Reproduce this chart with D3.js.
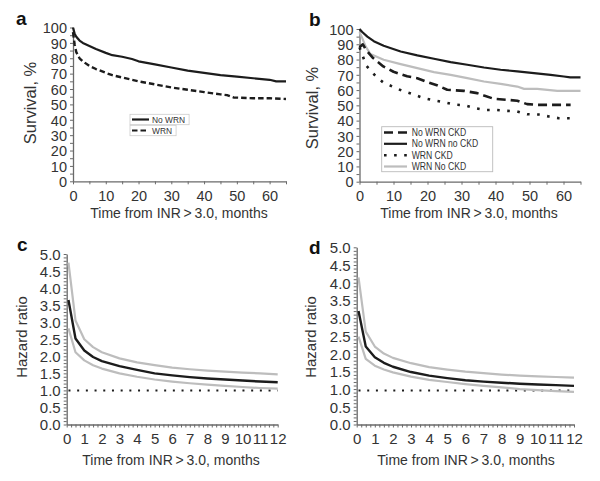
<!DOCTYPE html>
<html><head><meta charset="utf-8">
<script src="https://cdn.jsdelivr.net/npm/d3@7"></script>
<style>body{margin:0;background:#fff}svg{display:block;font-family:"Liberation Sans",Arial,Helvetica,sans-serif}</style>
</head><body><svg id="chart" width="600" height="481"></svg>
<script>
// ---------- DATA ----------
// Panel a: Kaplan-Meier survival (%), [month, survival]
const aNoWRN = [[0,100],[0.5,96],[1,94],[2,91.5],[3,90],[5,88],[7,86],[10,83.5],[12,82],[15,81],[18,79.5],[20,78],[25,76],[30,74],[35,72],[40,70.5],[45,69],[50,68],[55,67],[60,66],[62,65],[65,65]];
const aWRN = [[0,97],[0.5,89],[1,84],[2,80],[3,78],[5,75],[7,73],[10,70.5],[12,69],[15,67.5],[20,65],[25,63],[30,61],[35,59.5],[40,58],[45,56.5],[47,56],[49,54.5],[55,54],[60,54],[65,53.5]];
const aLegend = ["No WRN", "WRN"];
// Panel b
const bNoWRNCKD = [[0,88],[1,90],[2,86],[4,81],[7,75.5],[10,72],[14,69],[17,67.8],[20,65.2],[23,63],[25.8,60.2],[30.7,59.5],[34.6,58],[36.6,56.4],[39.5,54.3],[43.5,53.6],[46.4,53],[49.3,50.8],[52.3,50.3],[62.1,50.3]];
const bNoWRNnoCKD = [[0,100],[0.8,98],[2.3,95],[4.2,92],[7.1,89],[12.1,85.3],[17,82.7],[21.9,80.5],[26.8,78.3],[31.7,76.6],[36.6,74.8],[41.5,73.3],[46.4,72.2],[51.3,71.1],[56.2,70],[60.1,68.9],[62,68.3],[65,68.3]];
const bWRNCKD = [[0,88],[1,82],[2,76],[4,71],[5,68.5],[7,65],[10,62],[12.6,59.5],[15.5,57.5],[18.5,55],[21.4,53.5],[25,52],[28,50.5],[31,50],[34,48.2],[37,47],[40,47],[43.5,46.4],[46.4,46],[49.3,44.2],[52.7,44],[55.7,42.7],[58.6,41.6],[62,41.5]];
const bWRNNoCKD = [[0,98],[0.8,94],[1.8,88.6],[3.2,83.6],[7.1,79.9],[12.1,77],[17,74.4],[21.9,71.8],[26.8,70],[31.7,67.8],[36.6,65.6],[41.5,64.1],[46.4,62.3],[48.4,60.8],[52.3,60.8],[58.2,59.5],[65,59.5]];
const bLegend = ["No WRN CKD", "No WRN no CKD", "WRN CKD", "WRN No CKD"];
// Panels c and d: hazard ratio with confidence bounds
const hrMonths = [0.1,0.5,1,1.5,2,3,4,5,6,7,8,9,10,11,12];
const cHR    = [3.65,2.52,2.17,1.98,1.86,1.71,1.6,1.5,1.44,1.39,1.35,1.32,1.29,1.26,1.24];
const cUpper = [4.75,3.05,2.5,2.27,2.12,1.94,1.82,1.74,1.67,1.62,1.58,1.55,1.52,1.5,1.47];
const cLower = [2.82,2.12,1.88,1.74,1.64,1.5,1.4,1.32,1.26,1.21,1.17,1.13,1.1,1.07,1.05];
const dHR    = [3.2,2.2,1.9,1.74,1.63,1.48,1.38,1.31,1.25,1.21,1.18,1.15,1.13,1.11,1.09];
const dUpper = [4.15,2.62,2.2,2.0,1.88,1.73,1.62,1.55,1.49,1.45,1.41,1.38,1.36,1.34,1.32];
const dLower = [2.48,1.85,1.66,1.55,1.47,1.35,1.26,1.2,1.14,1.09,1.05,1.0,0.97,0.94,0.92];
const refLine = [[0.1,1.0],[12,1.0]];
const refLineD = [[0.1,0.96],[12,0.96]];
const panelLetters = ["a","b","c","d"];
const xTitle = "Time from INR\u2009>\u20093.0, months";

// ---------- DRAW ----------
const svg = d3.select("#chart");
const BLACK = "#1c1c1c", GREY = "#bdbdbd", AXIS = "#6a6a6a", TXT = "#333";

function panel(o) {
  const g = svg.append("g");
  const x = d3.scaleLinear().domain(o.xDom).range([o.x0, o.x1]);
  const y = d3.scaleLinear().domain(o.yDom).range([o.y0, o.y1]);
  const xa = d3.axisBottom(x).tickValues(o.xTicks).tickSize(3).tickSizeOuter(0).tickPadding(6)
    .tickFormat(o.xFmt);
  const ya = d3.axisLeft(y).tickValues(o.yTicks).tickSize(3).tickSizeOuter(0).tickPadding(3)
    .tickFormat(o.yFmt);
  const gx = g.append("g").attr("transform", `translate(0,${o.y0})`).call(xa);
  const gy = g.append("g").attr("transform", `translate(${o.x0},0)`).call(ya);
  [gx, gy].forEach(a => {
    a.select(".domain").attr("stroke", AXIS).attr("stroke-width", 1.3);
    a.selectAll(".tick line").attr("stroke", AXIS).attr("stroke-width", 1);
    a.selectAll("text").attr("fill", TXT).style("font-size", o.tickFont + "px")
      .style("font-family", '"Liberation Sans",Arial,sans-serif');
  });
  gy.selectAll("text").attr("dy", "0.36em");
  g.append("text").attr("x", o.xtX).attr("y", o.xtY).attr("text-anchor", "middle")
    .attr("fill", TXT).style("font-size", "14px").text(xTitle);
  g.append("text").attr("transform", `translate(${o.ytX},${o.ytY}) rotate(-90)`)
    .attr("text-anchor", "middle").attr("fill", TXT).style("font-size", o.ytFont + "px").text(o.yTitle);
  g.append("text").attr("x", o.lx).attr("y", o.ly).attr("fill", "#111")
    .style("font-size", "19px").style("font-weight", "bold").text(o.letter);
  const line = d3.line().x(d => x(d[0])).y(d => y(d[1]));
  o.series.forEach(s => {
    g.append("path").datum(s.data).attr("d", line).attr("fill", "none")
      .attr("stroke", s.color).attr("stroke-width", s.w)
      .attr("stroke-dasharray", s.dash || null).attr("stroke-linejoin", "round");
  });
  return {g, x, y};
}

// compress legend text horizontally like the narrow face in the reference
function narrowText(sel, k) {
  const w = sel.node().getComputedTextLength();
  sel.attr("textLength", w * k).attr("lengthAdjust", "spacingAndGlyphs");
}

const survXFmt = d => d % 10 === 0 ? d : "";
const survYFmt = d => d % 10 === 0 ? d : "";
const hrXFmt = d => Math.abs(d - Math.round(d)) < 1e-6 ? Math.round(d) : "";
const hrYFmt = d => Math.round(d * 10) % 5 === 0 ? d3.format(".1f")(d) : "";
const survXT = d3.range(0, 66, 5), survYT = d3.range(0, 101, 5);
const hrXT = d3.range(0, 49).map(i => i / 4), hrYT = d3.range(0, 51).map(i => i / 10);

// Panel a
const A = panel({xDom:[0,65], yDom:[0,100], x0:73, x1:286, y0:181.3, y1:27.5,
  xTicks:survXT, yTicks:survYT, xFmt:survXFmt, yFmt:survYFmt, tickFont:14.5,
  xtX:179, xtY:218, ytX:36, ytY:103, ytFont:16.5, yTitle:"Survival, %",
  letter:panelLetters[0], lx:16, ly:25,
  series:[
    {data:aWRN, color:BLACK, w:2.4, dash:"5.5,3"},
    {data:aNoWRN, color:BLACK, w:2.2}
  ]});
(function(){
  const rows = [{t:aLegend[0], y:119.5, dash:null}, {t:aLegend[1], y:130.5, dash:"5.5,3"}];
  rows.forEach((r,i) => {
    const gg = A.g.append("g");
    const txt = gg.append("text").attr("x", 152).attr("y", r.y).attr("dy","0.35em")
      .attr("fill", TXT).style("font-size","9.5px").text(r.t);
    narrowText(txt, 0.88);
    const bb = txt.node().getBBox();
    gg.insert("rect","text").attr("x",130).attr("y", r.y-5.2).attr("width", bb.x+bb.width+4-130)
      .attr("height",10.4).attr("fill","#fff").attr("stroke","#ccc").attr("stroke-width",0.8);
    gg.append("line").attr("x1",132).attr("x2",149).attr("y1",r.y).attr("y2",r.y)
      .attr("stroke",BLACK).attr("stroke-width",2.2).attr("stroke-dasharray", r.dash);
  });
})();

// Panel b
const B = panel({xDom:[0,65], yDom:[0,100], x0:359.5, x1:580.5, y0:181.7, y1:29,
  xTicks:survXT, yTicks:survYT, xFmt:survXFmt, yFmt:survYFmt, tickFont:14.5,
  xtX:469, xtY:218, ytX:318, ytY:108, ytFont:16.5, yTitle:"Survival, %",
  letter:panelLetters[1], lx:309, ly:26,
  series:[
    {data:bWRNNoCKD, color:GREY, w:2.2},
    {data:bWRNCKD, color:BLACK, w:2.6, dash:"2.6,7.5"},
    {data:bNoWRNCKD, color:BLACK, w:2.6, dash:"9,5"},
    {data:bNoWRNnoCKD, color:BLACK, w:2.2}
  ]});
(function(){
  B.g.append("rect").attr("x",381.7).attr("y",126.7).attr("width",111).attr("height",45)
    .attr("fill","#fff").attr("stroke","#bbb").attr("stroke-width",0.9);
  const sty = [
    {c:BLACK, w:2.6, dash:"9,5"}, {c:BLACK, w:2.2, dash:null},
    {c:BLACK, w:2.6, dash:"2.6,7.5"}, {c:GREY, w:2.2, dash:null}];
  const ys = [132.5, 143.8, 155.2, 166.5];
  bLegend.forEach((t,i) => {
    B.g.append("line").attr("x1",384).attr("x2",407).attr("y1",ys[i]).attr("y2",ys[i])
      .attr("stroke",sty[i].c).attr("stroke-width",sty[i].w).attr("stroke-dasharray",sty[i].dash);
    const tx = B.g.append("text").attr("x",411.7).attr("y",ys[i]).attr("dy","0.35em").attr("fill",TXT)
      .style("font-size","10px").text(t);
    narrowText(tx, 0.86);
  });
})();

const zipS = (t, v) => t.map((d,i) => [d, v[i]]);
// Panel c
panel({xDom:[0,12], yDom:[0,5], x0:66.7, x1:277.7, y0:424.5, y1:254,
  xTicks:hrXT, yTicks:hrYT, xFmt:hrXFmt, yFmt:hrYFmt, tickFont:15,
  xtX:171, xtY:465, ytX:27, ytY:337, ytFont:15, yTitle:"Hazard ratio",
  letter:panelLetters[2], lx:17, ly:251,
  series:[
    {data:refLine, color:BLACK, w:2, dash:"2,6.7"},
    {data:zipS(hrMonths,cUpper), color:GREY, w:2.2},
    {data:zipS(hrMonths,cLower), color:GREY, w:2.2},
    {data:zipS(hrMonths,cHR), color:BLACK, w:2.4}
  ]});
// Panel d
panel({xDom:[0,12], yDom:[0,5], x0:356.7, x1:574, y0:424.5, y1:247.3,
  xTicks:hrXT, yTicks:hrYT, xFmt:hrXFmt, yFmt:hrYFmt, tickFont:15,
  xtX:466, xtY:465, ytX:316, ytY:337, ytFont:15, yTitle:"Hazard ratio",
  letter:panelLetters[3], lx:309, ly:254,
  series:[
    {data:refLineD, color:BLACK, w:2, dash:"2,6.7"},
    {data:zipS(hrMonths,dUpper), color:GREY, w:2.2},
    {data:zipS(hrMonths,dLower), color:GREY, w:2.2},
    {data:zipS(hrMonths,dHR), color:BLACK, w:2.4}
  ]});
</script></body></html>
